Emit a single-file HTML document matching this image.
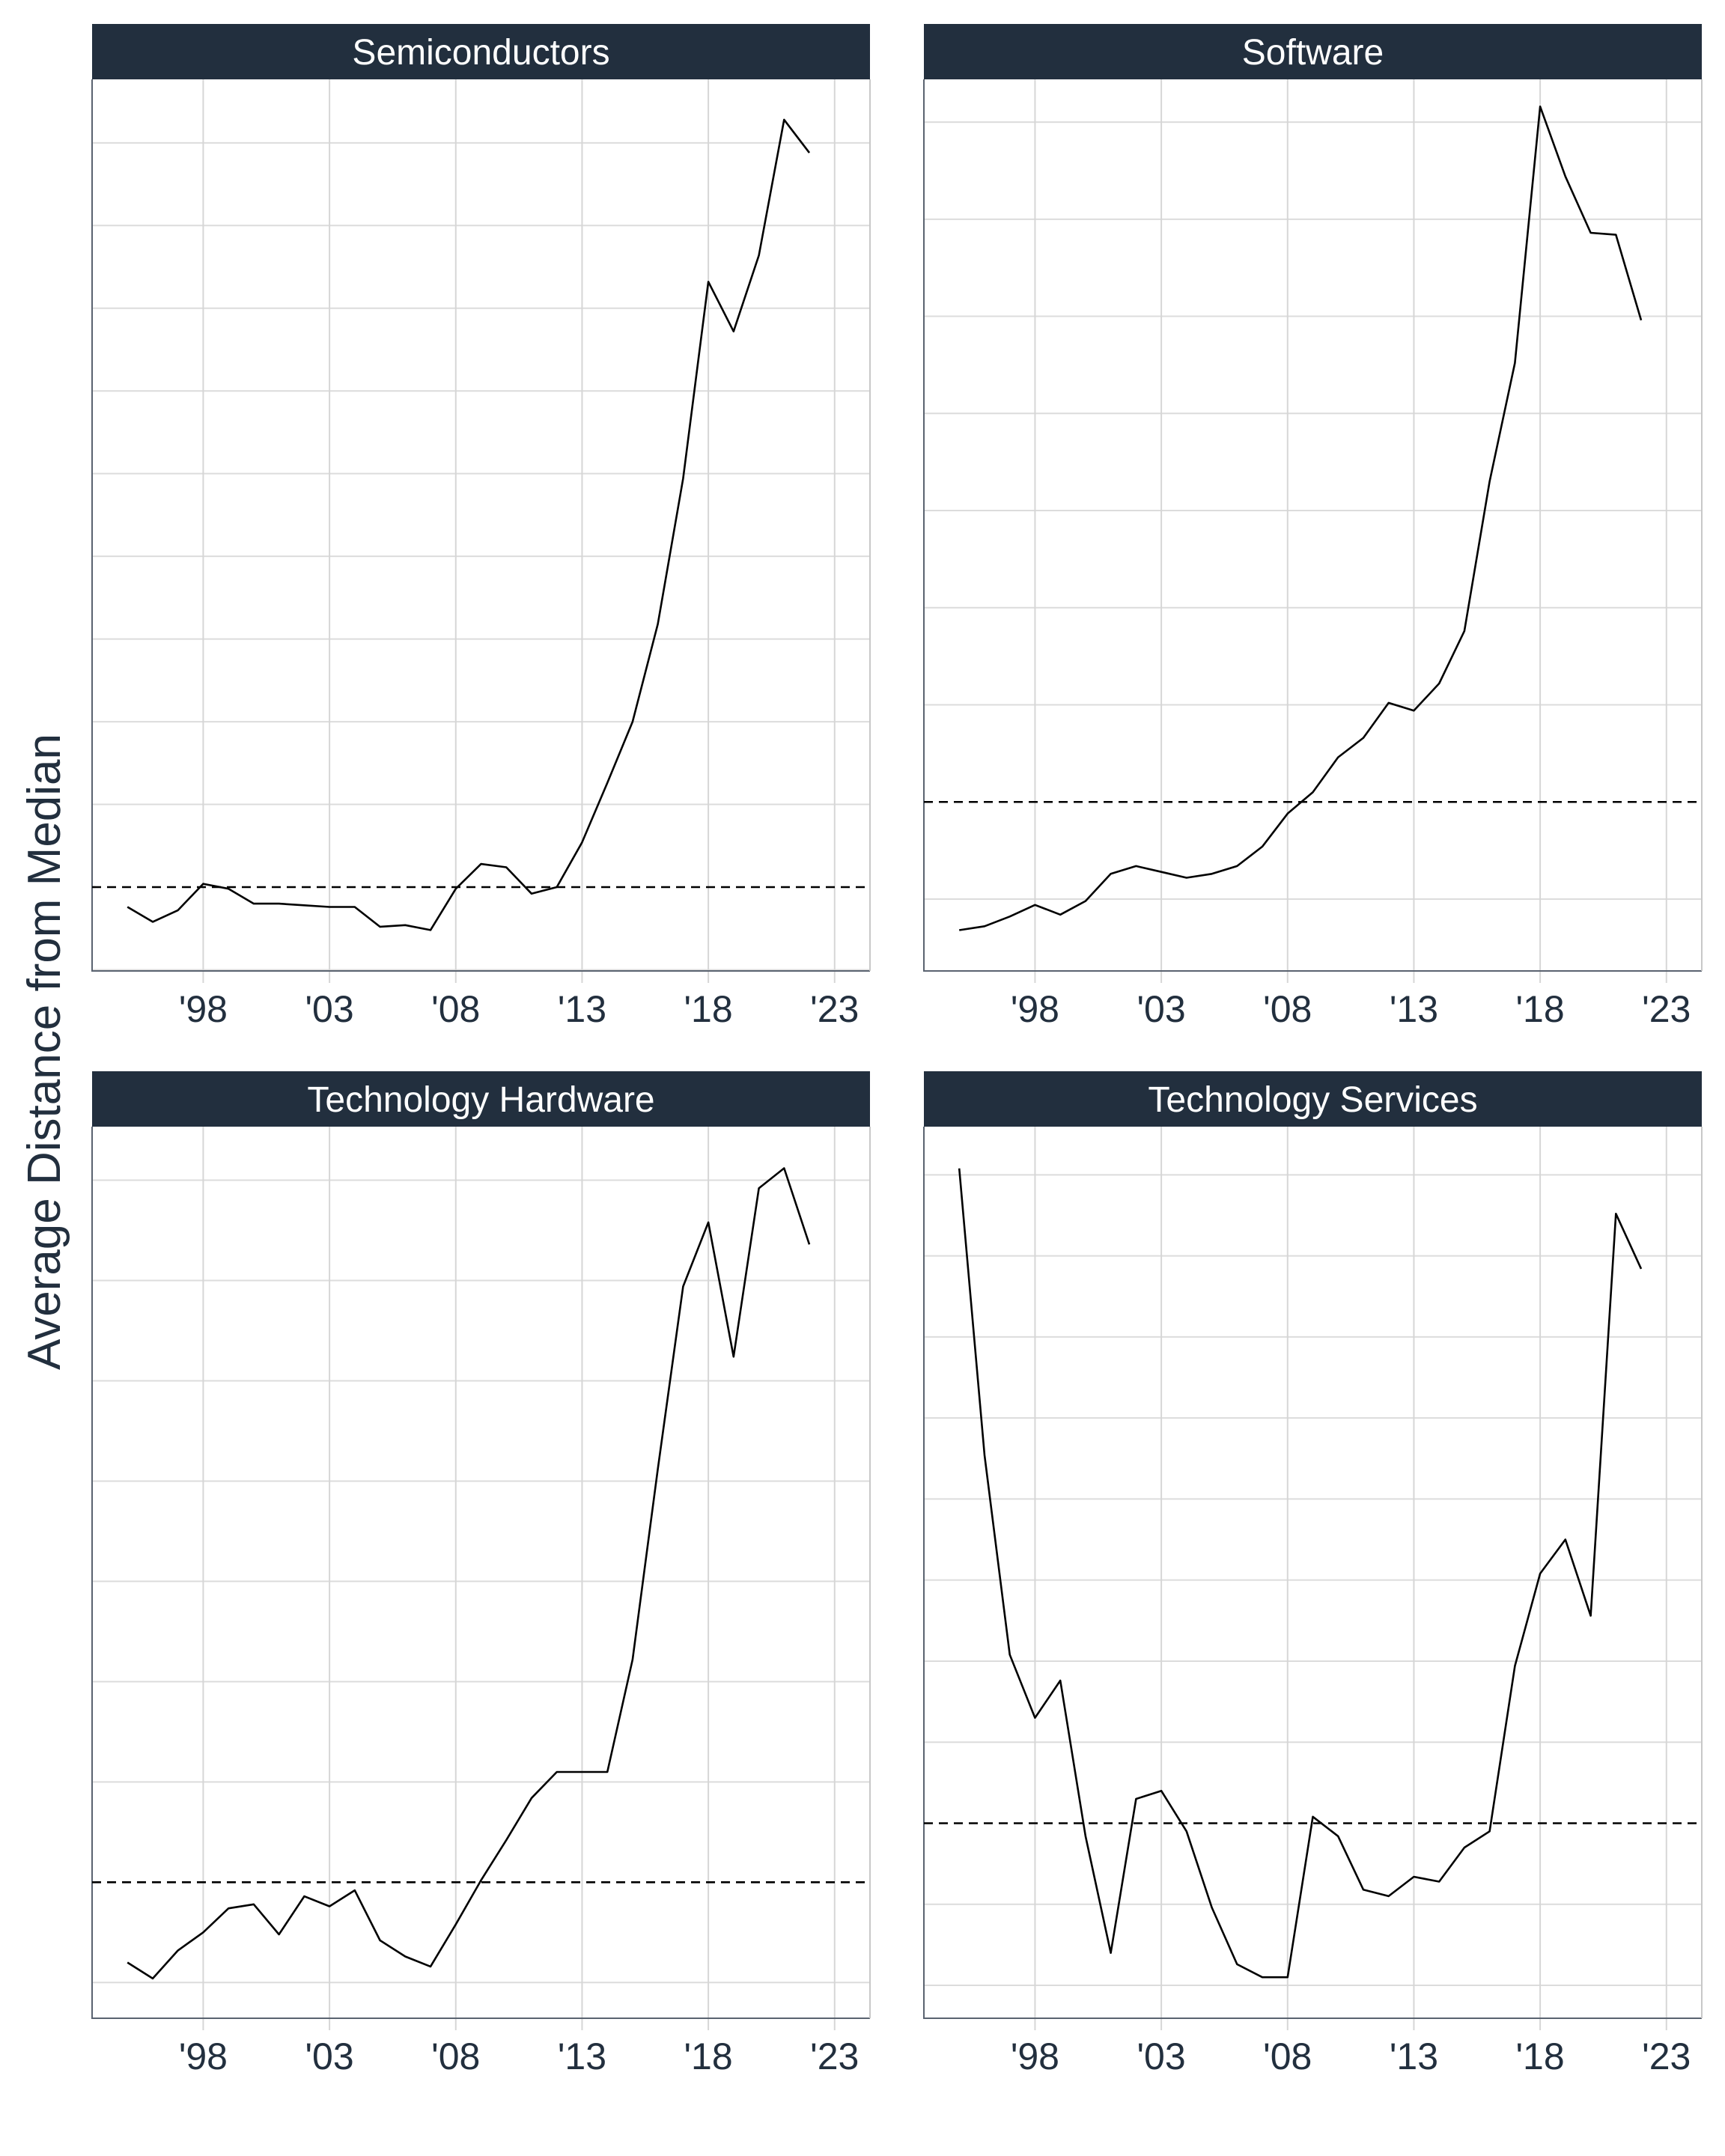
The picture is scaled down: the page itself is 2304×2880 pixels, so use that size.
<!DOCTYPE html>
<html><head><meta charset="utf-8"><style>
html,body{margin:0;padding:0;background:#fff;}
svg{display:block;font-family:"Liberation Sans",sans-serif;}
</style></head><body>
<svg id="chart" width="2304" height="2880" viewBox="0 0 2304 2880" xmlns="http://www.w3.org/2000/svg">
<text x="0" y="0" transform="translate(80,1405) rotate(-90)" text-anchor="middle" font-size="62" fill="#222f3e">Average Distance from Median</text>
</svg>
<script>
const years = [1995,1996,1997,1998,1999,2000,2001,2002,2003,2004,2005,2006,2007,2008,2009,2010,2011,2012,2013,2014,2015,2016,2017,2018,2019,2020,2021,2022];
const xTicks = [1998,2003,2008,2013,2018,2023];
const xTickLabels = ["'98","'03","'08","'13","'18","'23"];
const semiValues = [-0.12,-0.21,-0.14,0.02,-0.01,-0.10,-0.10,-0.11,-0.12,-0.12,-0.24,-0.23,-0.26,-0.01,0.14,0.12,-0.04,0,0.27,0.63,1.00,1.59,2.47,3.66,3.36,3.82,4.64,4.44];
const softValues = [-0.66,-0.64,-0.59,-0.53,-0.58,-0.51,-0.37,-0.33,-0.36,-0.39,-0.37,-0.33,-0.23,-0.06,0.05,0.23,0.33,0.51,0.47,0.61,0.88,1.65,2.26,3.58,3.22,2.93,2.92,2.48];
const hardValues = [-0.40,-0.48,-0.34,-0.25,-0.13,-0.11,-0.26,-0.07,-0.12,-0.04,-0.29,-0.37,-0.42,-0.21,0.01,0.21,0.42,0.55,0.55,0.55,1.11,2.06,2.97,3.29,2.62,3.46,3.56,3.18];
const servValues = [4.04,2.27,1.04,0.65,0.88,-0.08,-0.80,0.15,0.20,-0.05,-0.52,-0.87,-0.95,-0.95,0.04,-0.08,-0.41,-0.45,-0.33,-0.36,-0.15,-0.05,0.97,1.54,1.75,1.28,3.76,3.42];
const titles = ["Semiconductors","Software","Technology Hardware","Technology Services"];
const yDomains = [[-0.507,4.884],[-0.87,3.72],[-0.678,3.767],[-1.203,4.297]];
const seriesList = [semiValues,softValues,hardValues,servValues];
const xDomain = [1993.6,2024.4];

const NS="http://www.w3.org/2000/svg";
const svg=document.getElementById('chart');
function mk(tag,attrs,parent){const e=document.createElementNS(NS,tag);for(const k in attrs)e.setAttribute(k,attrs[k]);(parent||svg).appendChild(e);return e;}
const panels=[{x0:123,x1:1162,y0:106,y1:1297},{x0:1234,x1:2273,y0:106,y1:1297},{x0:123,x1:1162,y0:1505,y1:2696},{x0:1234,x1:2273,y0:1505,y1:2696}];
const slugs=["semiconductors","software","technology-hardware","technology-services"];
panels.forEach((p,i)=>{
  const g=mk('g',{});
  
  
  const xs=v=>p.x0+(v-xDomain[0])/(xDomain[1]-xDomain[0])*(p.x1-p.x0);
  const [d0,d1]=yDomains[i];
  const ys=v=>p.y1-(v-d0)/(d1-d0)*(p.y1-p.y0);
  for(let v=Math.ceil(d0*2)/2; v<=d1; v+=0.5){
    if(Math.abs(v)<1e-9) continue;
    const gl=mk('line',{x1:p.x0,x2:p.x1,y1:ys(v),y2:ys(v),stroke:'#dcdcdc','stroke-width':2},g);
    
    
  }
  xTicks.forEach((t,j)=>{
    const gl=mk('line',{x1:xs(t),x2:xs(t),y1:p.y0,y2:p.y1+16,stroke:'#d6d6d6','stroke-width':2},g);
    
    
    const tx=mk('text',{x:xs(t),y:p.y1+68,'text-anchor':'middle','font-size':50,fill:'#222f3e'},g);
    tx.textContent=xTickLabels[j];
    
    
  });
  const ax=mk('path',{d:`M${p.x0} ${p.y0} V${p.y1} H${p.x1}`,fill:'none',stroke:'#5a6370','stroke-width':2},g);
  
  
  const rb=mk('line',{x1:p.x1,x2:p.x1,y1:p.y0,y2:p.y1,stroke:'#c8c8c8','stroke-width':2},g);
  
  
  const ml=mk('line',{x1:p.x0,x2:p.x1,y1:ys(0),y2:ys(0),stroke:'#000','stroke-width':2.6,'stroke-dasharray':'12 8'},g);
  
  
  const vals=seriesList[i];
  const d=vals.map((v,k)=>(k?'L':'M')+xs(years[k]).toFixed(1)+' '+ys(v).toFixed(1)).join(' ');
  const ln=mk('path',{d:d,fill:'none',stroke:'#000','stroke-width':2.6,'stroke-linejoin':'round'},g);
  
  
  const hb=mk('rect',{x:p.x0,y:p.y0-74,width:p.x1-p.x0,height:74,fill:'#222f3e'},g);
  
  
  const ht=mk('text',{x:(p.x0+p.x1)/2,y:p.y0-20,'text-anchor':'middle','font-size':48,fill:'#fff'},g);
  ht.textContent=titles[i];
  
  
});
</script>
</body></html>
